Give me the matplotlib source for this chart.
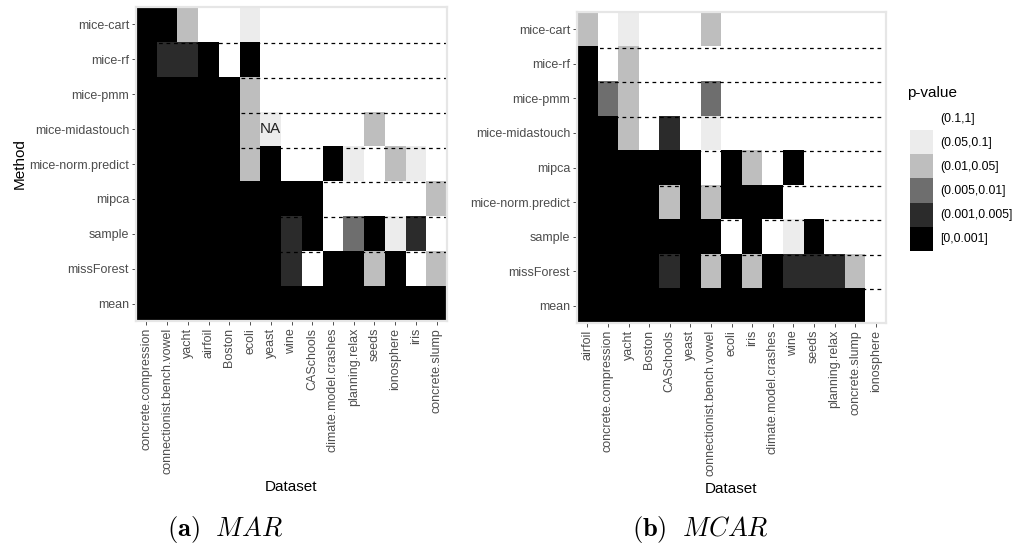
import numpy as np
import matplotlib
matplotlib.use("Agg")
import matplotlib.pyplot as plt
from matplotlib.colors import ListedColormap, BoundaryNorm
from matplotlib.patches import Patch

plt.rcParams["font.family"] = ["Liberation Sans", "DejaVu Sans"]
plt.rcParams["mathtext.fontset"] = "cm"

# p-value classes, lowest first
levels = ["[0,0.001]", "(0.001,0.005]", "(0.005,0.01]", "(0.01,0.05]", "(0.05,0.1]", "(0.1,1]"]
level_colors = ["#000000", "#2b2b2b", "#6e6e6e", "#bebebe", "#ececec", "#ffffff"]

# (a) MAR
mar_datasets = ["concrete.compression", "connectionist.bench.vowel", "yacht", "airfoil",
                "Boston", "ecoli", "yeast", "wine", "CASchools", "climate.model.crashes",
                "planning.relax", "seeds", "ionosphere", "iris", "concrete.slump"]
mar_methods = ["mice-cart", "mice-rf", "mice-pmm", "mice-midastouch", "mice-norm.predict",
               "mipca", "sample", "missForest", "mean"]
# class index per tile (0 = [0,0.001] ... 5 = (0.1,1]), None = NA
mar_cart = [0, 0, 3, 5, 5, 4, 5, 5, 5, 5, 5, 5, 5, 5, 5]
mar_rf = [0, 1, 1, 0, 5, 0, 5, 5, 5, 5, 5, 5, 5, 5, 5]
mar_pmm = [0, 0, 0, 0, 0, 3, 5, 5, 5, 5, 5, 5, 5, 5, 5]
mar_midastouch = [0, 0, 0, 0, 0, 3, None, 5, 5, 5, 5, 3, 5, 5, 5]
mar_norm_predict = [0, 0, 0, 0, 0, 3, 0, 5, 5, 0, 4, 5, 3, 4, 5]
mar_mipca = [0, 0, 0, 0, 0, 0, 0, 0, 0, 5, 5, 5, 5, 5, 3]
mar_sample = [0, 0, 0, 0, 0, 0, 0, 1, 0, 5, 2, 0, 4, 1, 5]
mar_missforest = [0, 0, 0, 0, 0, 0, 0, 1, 5, 0, 0, 3, 0, 5, 3]
mar_mean = [0, 0, 0, 0, 0, 0, 0, 0, 0, 0, 0, 0, 0, 0, 0]

# (b) MCAR
mcar_datasets = ["airfoil", "concrete.compression", "yacht", "Boston", "CASchools", "yeast",
                 "connectionist.bench.vowel", "ecoli", "iris", "climate.model.crashes",
                 "wine", "seeds", "planning.relax", "concrete.slump", "ionosphere"]
mcar_methods = ["mice-cart", "mice-rf", "mice-pmm", "mice-midastouch", "mipca",
                "mice-norm.predict", "sample", "missForest", "mean"]
mcar_cart = [3, 5, 4, 5, 5, 5, 3, 5, 5, 5, 5, 5, 5, 5, 5]
mcar_rf = [0, 5, 3, 5, 5, 5, 5, 5, 5, 5, 5, 5, 5, 5, 5]
mcar_pmm = [0, 2, 3, 5, 5, 5, 2, 5, 5, 5, 5, 5, 5, 5, 5]
mcar_midastouch = [0, 0, 3, 5, 1, 5, 4, 5, 5, 5, 5, 5, 5, 5, 5]
mcar_mipca = [0, 0, 0, 0, 0, 0, 5, 0, 3, 5, 0, 5, 5, 5, 5]
mcar_norm_predict = [0, 0, 0, 0, 3, 0, 3, 0, 0, 0, 5, 5, 5, 5, 5]
mcar_sample = [0, 0, 0, 0, 0, 0, 0, 5, 0, 5, 4, 0, 5, 5, 5]
mcar_missforest = [0, 0, 0, 0, 1, 0, 3, 0, 3, 0, 1, 1, 1, 3, 5]
mcar_mean = [0, 0, 0, 0, 0, 0, 0, 0, 0, 0, 0, 0, 0, 0, 5]


def draw_panel(ax, rows, methods, datasets):
    grid = np.array([[np.nan if v is None else v for v in r] for r in rows], dtype=float)
    cmap = ListedColormap(level_colors)
    cmap.set_bad("#ececec")
    norm = BoundaryNorm(np.arange(-0.5, len(levels)), cmap.N)
    ax.imshow(grid, cmap=cmap, norm=norm, aspect="auto", interpolation="nearest")

    # dashed separators between methods (sit on top edge of lower row)
    for i in range(len(methods) - 1):
        ax.axhline(i + 0.53, color="black", lw=0.9, ls=(0, (3, 3)))

    for i, j in zip(*np.where(np.isnan(grid))):
        ax.text(j, i, "NA", ha="center", va="center", fontsize=11, color="#222222")

    ax.set_xticks(range(len(datasets)))
    ax.set_xticklabels(datasets, rotation=90)
    ax.set_yticks(range(len(methods)))
    ax.set_yticklabels(methods)
    ax.tick_params(colors="#333333", labelcolor="#4d4d4d", labelsize=9,
                   length=3, width=0.6, pad=2)
    ax.set_xlabel("Dataset", fontsize=11, labelpad=4)
    for s in ax.spines.values():
        s.set_color("#e6e6e6")
        s.set_linewidth(1.6)


fig = plt.figure(figsize=(10.16, 5.46), dpi=100)
ax1 = fig.add_axes([136 / 1016, 1 - 321 / 546, 311 / 1016, 314 / 546])
ax2 = fig.add_axes([577 / 1016, 1 - 323 / 546, 309 / 1016, 311 / 546])

draw_panel(ax1, [mar_cart, mar_rf, mar_pmm, mar_midastouch, mar_norm_predict,
                 mar_mipca, mar_sample, mar_missforest, mar_mean],
           mar_methods, mar_datasets)
ax1.set_ylabel("Method", fontsize=11, labelpad=2)

draw_panel(ax2, [mcar_cart, mcar_rf, mcar_pmm, mcar_midastouch, mcar_mipca,
                 mcar_norm_predict, mcar_sample, mcar_missforest, mcar_mean],
           mcar_methods, mcar_datasets)

# legend: title as separate text so the gap to the keys can be set
fig.text(907 / 1016, 1 - 93 / 546, "p-value", fontsize=11, va="center", ha="left")
handles = [Patch(facecolor=c, edgecolor="none") for c in level_colors[::-1]]
fig.legend(handles, levels[::-1], loc="upper left",
           bbox_to_anchor=(910 / 1016, 1 - 106 / 546), frameon=False, fontsize=8.8,
           handlelength=1.9, handleheight=2.66,
           labelspacing=0, handletextpad=0.6,
           borderaxespad=0, borderpad=0)

fig.text(0.2215, 0.019, r"$\mathbf{(a)}\ \ \mathit{MAR}$", ha="center", fontsize=19)
fig.text(0.689, 0.019, r"$\mathbf{(b)}\ \ \mathit{MCAR}$", ha="center", fontsize=19)

fig.savefig("out.png", dpi=100, facecolor="white")
